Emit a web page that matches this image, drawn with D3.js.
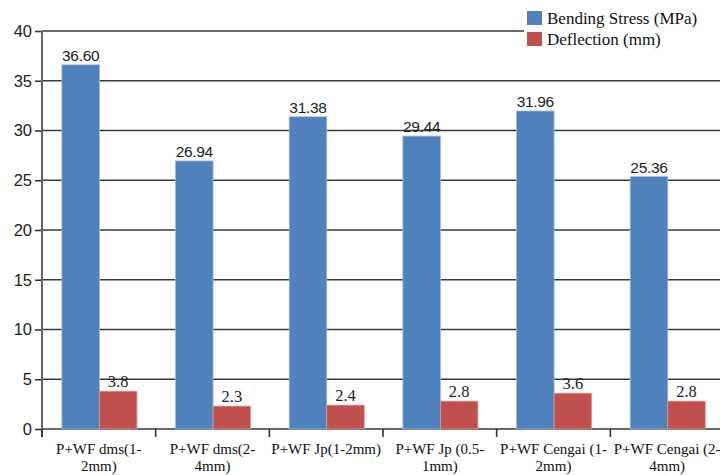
<!DOCTYPE html>
<html>
<head>
<meta charset="utf-8">
<script src="https://cdn.jsdelivr.net/npm/d3@7"></script>
<style>
  html, body { margin: 0; padding: 0; background: #fff; }
  svg { display: block; }
</style>
</head>
<body>
<svg id="chart" width="720" height="475"></svg>
<script>
const categories = [
  ["P+WF dms(1-", "2mm)"],
  ["P+WF dms(2-", "4mm)"],
  ["P+WF Jp(1-2mm)"],
  ["P+WF Jp (0.5-", "1mm)"],
  ["P+WF Cengai (1-", "2mm)"],
  ["P+WF Cengai (2-", "4mm)"]
];
const seriesNames = ["Bending Stress (MPa)", "Deflection (mm)"];
const bendingStress = [36.60, 26.94, 31.38, 29.44, 31.96, 25.36];
const deflection = [3.8, 2.3, 2.4, 2.8, 3.6, 2.8];
const bendingLabels = ["36.60", "26.94", "31.38", "29.44", "31.96", "25.36"];
const deflectionLabels = ["3.8", "2.3", "2.4", "2.8", "3.6", "2.8"];
const yTicks = [0, 5, 10, 15, 20, 25, 30, 35, 40];
const colors = ["#4F81BD", "#C0504D"];
const strokes = ["#9DB8DC", "#D99694"];

const svg = d3.select("#chart");
const plotLeft = 42, plotRight = 724, plotTop = 31, plotBottom = 429;

const idx = d3.range(categories.length);
const x = d3.scaleBand().domain(idx).range([plotLeft, plotRight]).padding(0);
const bw = x.bandwidth();
const x1 = d3.scaleBand().domain([0, 1]).range([bw * 0.175, bw * 0.835]).padding(0);
const y = d3.scaleLinear().domain([0, 40]).range([plotBottom, plotTop]);

// gridlines
svg.append("g").selectAll("line").data(yTicks).join("line")
  .attr("x1", plotLeft).attr("x2", 720)
  .attr("y1", d => y(d)).attr("y2", d => y(d))
  .attr("stroke", "#3a3a3a").attr("stroke-width", 1.6);

// bars
const series = [bendingStress, deflection];
series.forEach((vals, s) => {
  svg.append("g").selectAll("rect").data(vals).join("rect")
    .attr("x", (d, i) => x(i) + x1(s))
    .attr("width", x1.bandwidth())
    .attr("y", d => y(d))
    .attr("height", d => y(0) - y(d))
    .attr("fill", colors[s])
    .attr("stroke", strokes[s]).attr("stroke-width", 0.8);
});

// y axis
const yAxis = d3.axisLeft(y).tickValues(yTicks).tickSize(7).tickPadding(3).tickFormat(d3.format("d"));
const ya = svg.append("g").attr("transform", `translate(${plotLeft},0)`).call(yAxis);
ya.select(".domain").remove();
ya.selectAll(".tick line").attr("stroke", "#333").attr("stroke-width", 1.6);
ya.selectAll(".tick text").attr("fill", "#222")
  .style("font-family", "'Liberation Sans', Arial, sans-serif").style("font-size", "16.5px");
svg.append("line").attr("x1", plotLeft).attr("x2", plotLeft).attr("y1", plotTop).attr("y2", plotBottom + 8)
  .attr("stroke", "#666").attr("stroke-width", 2);

// x axis ticks at band boundaries
const xTickPos = d3.range(categories.length + 1).map(i => plotLeft + i * bw);
svg.append("g").selectAll("line").data(xTickPos).join("line")
  .attr("x1", d => d).attr("x2", d => d).attr("y1", plotBottom).attr("y2", plotBottom + 8)
  .attr("stroke", "#333").attr("stroke-width", 1.6);

// category labels
const cat = svg.append("g").selectAll("text").data(categories).join("text")
  .attr("text-anchor", "middle")
  .attr("fill", "#111")
  .style("font-family", "'Liberation Serif', 'Times New Roman', serif")
  .style("font-size", "15px");
cat.each(function(lines, i) {
  const t = d3.select(this);
  lines.forEach((ln, j) => {
    t.append("tspan").attr("x", x(i) + bw / 2).attr("y", 454 + j * 17).text(ln);
  });
});

// value labels
svg.append("g").selectAll("text").data(bendingStress).join("text")
  .attr("x", (d, i) => x(i) + x1(0) + x1.bandwidth() / 2)
  .attr("y", d => y(d) - 4)
  .attr("text-anchor", "middle").attr("fill", "#222")
  .style("font-family", "'Liberation Sans', Arial, sans-serif").style("font-size", "15.5px")
  .style("letter-spacing", "-0.3px")
  .text((d, i) => bendingLabels[i]);
svg.append("g").selectAll("text").data(deflection).join("text")
  .attr("x", (d, i) => x(i) + x1(1) + x1.bandwidth() / 2)
  .attr("y", d => y(d) - 4)
  .attr("text-anchor", "middle").attr("fill", "#222")
  .style("font-family", "'Liberation Serif', 'Times New Roman', serif").style("font-size", "16.5px")
  .text((d, i) => deflectionLabels[i]);

// legend
const lg = svg.append("g");
lg.append("rect").attr("x", 524).attr("y", 9).attr("width", 196).attr("height", 38).attr("fill", "#fff");
seriesNames.forEach((n, i) => {
  lg.append("rect").attr("x", 527).attr("y", 11 + i * 21).attr("width", 15).attr("height", 14)
    .attr("fill", colors[i]);
  lg.append("text").attr("x", 547).attr("y", 24 + i * 21)
    .attr("fill", "#111")
    .style("font-family", "'Liberation Serif', 'Times New Roman', serif").style("font-size", "17px")
    .text(n);
});
</script>
</body>
</html>
